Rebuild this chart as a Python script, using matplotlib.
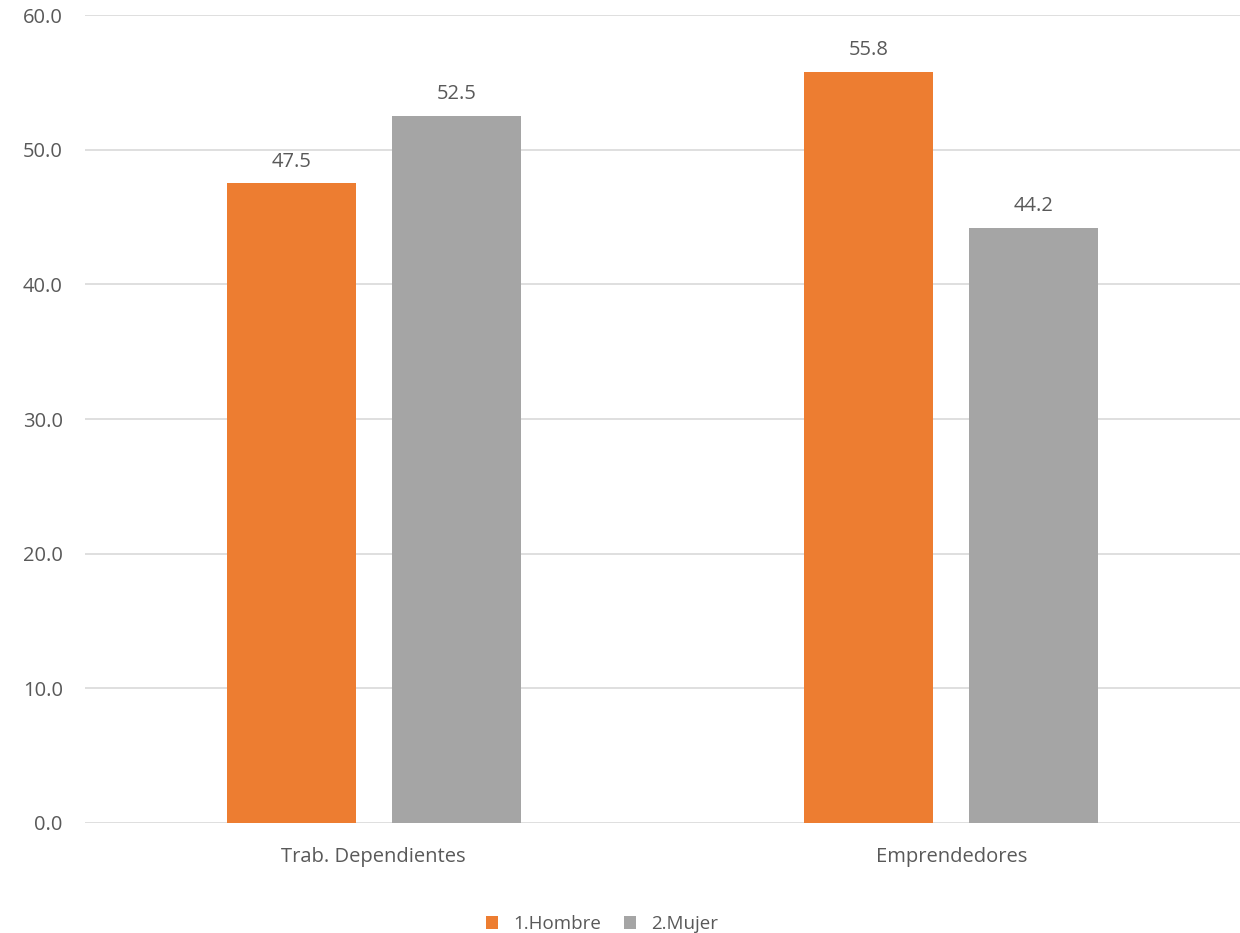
import numpy as np
import matplotlib.pyplot as plt

categories = ['Trab. Dependientes', 'Emprendedores']
series_names = ['1.Hombre', '2.Mujer']
hombre = [47.5, 55.8]
mujer = [52.5, 44.2]
colors = ['#ED7D31', '#A5A5A5']

plt.rcParams['font.family'] = ['Open Sans', 'DejaVu Sans']
text_color = '#595959'

fig = plt.figure(figsize=(12.4, 9.33), dpi=100)
ax = fig.add_axes([85 / 1240, 1 - 823 / 933, 1155 / 1240, (823 - 15) / 933])

x = np.arange(len(categories))
w = 0.223
off = 0.143
for vals, name, c, d in zip([hombre, mujer], series_names, colors, [-off, off]):
    bars = ax.bar(x + d, vals, width=w, color=c, label=name, zorder=3)
    for b, v in zip(bars, vals):
        ax.text(b.get_x() + b.get_width() / 2, v + 1.25, f'{v:.1f}',
                ha='center', va='baseline', fontsize=14.5, color=text_color)

ax.set_xlim(-0.5, 1.5)
ax.set_ylim(0, 60)
ax.set_yticks(np.arange(0, 61, 10))
ax.set_yticklabels([f'{t:.1f}' for t in np.arange(0, 61, 10)])
ax.set_xticks(x)
ax.set_xticklabels(categories)
ax.grid(axis='y', color='#D9D9D9', linewidth=1.2, zorder=0)
for s in ax.spines.values():
    s.set_visible(False)
ax.tick_params(axis='both', length=0, labelsize=14.5, colors=text_color)
ax.tick_params(axis='x', pad=17)
ax.tick_params(axis='y', pad=16)

leg = fig.legend(loc='center', bbox_to_anchor=(602 / 1240, 1 - 924 / 933), ncol=2,
                 frameon=False, fontsize=13.5, handlelength=0.65, handleheight=0.65,
                 columnspacing=1.2, handletextpad=0.8)
for t in leg.get_texts():
    t.set_color(text_color)

plt.savefig('out.png', dpi=100)
